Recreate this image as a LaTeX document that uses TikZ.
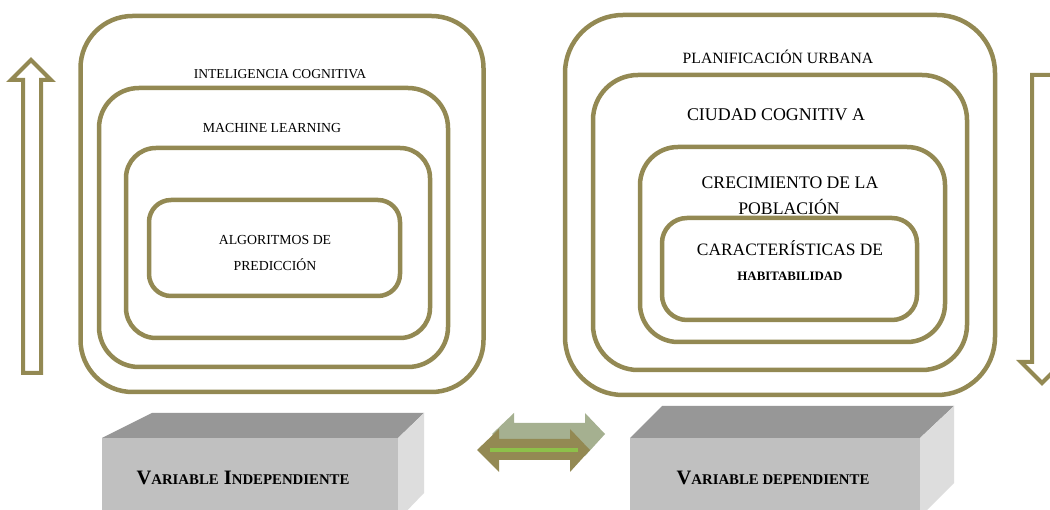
\documentclass[tikz,border=0pt]{standalone}
\usepackage{fontspec}
\setmainfont{Liberation Serif}
\definecolor{oliveline}{HTML}{938953}
\definecolor{arrowback}{HTML}{A5B090}
\definecolor{arrowgreen}{HTML}{8DC04A}
\definecolor{boxfront}{HTML}{C0C0C0}
\definecolor{boxtop}{HTML}{979797}
\definecolor{boxside}{HTML}{DDDDDD}
\newcommand\mysc[1]{{\fontsize{14.8}{15}\selectfont #1}}
\begin{document}
\begin{tikzpicture}[x=1pt,y=-1pt,
  frame/.style={draw=oliveline, line width=4.5pt, rounded corners=#1, inner sep=0pt, fill=none},
  lbl/.style={inner sep=0pt, text=black, align=center},
  hollowarrow/.style={draw=oliveline, line width=4pt, line join=miter, fill=white},
  boxlbl/.style={inner sep=0pt, text=black, font=\bfseries\fontsize{20.5}{21}\selectfont}]
\useasboundingbox (0,0) rectangle (1050,510);
\clip (0,0) rectangle (1050,510);
\fill[white] (0,0) rectangle (1050,510);

% ---- left arrow (up) ----
\draw[hollowarrow] (23,373) -- (23,80) -- (11,80) -- (31,60) -- (51,80) -- (41,80) -- (41,373) -- cycle;

% ---- left nested frames ----
\node[frame=52, minimum width=403, minimum height=376] (li) at (282,204) {};
\node[frame=40, minimum width=349, minimum height=279] (lm) at (273.5,227.5) {};
\node[frame=30, minimum width=304, minimum height=190] (lp) at (278,243) {};
\node[frame=22, minimum width=251, minimum height=96] (la) at (274.5,248) {};

\node[lbl, font=\fontsize{13.6}{14}\selectfont] (tli) at (280,74) {INTELIGENCIA COGNITIVA};
\node[lbl, font=\fontsize{13.8}{14}\selectfont] (tlm) at (272,128) {MACHINE LEARNING};
\node[lbl, font=\fontsize{13.8}{14}\selectfont] (tla1) at (275,240) {ALGORITMOS DE};
\node[lbl, font=\fontsize{13.8}{14}\selectfont] (tla2) at (275,265) {PREDICCIÓN};

% ---- right nested frames ----
\node[frame=58, minimum width=430, minimum height=380] (ru) at (780,205) {};
\node[frame=45, minimum width=374, minimum height=295] (rc) at (780,222.5) {};
\node[frame=38, minimum width=305, minimum height=195] (rp) at (792.5,244.5) {};
\node[frame=25, minimum width=255, minimum height=102] (rh) at (789.5,269) {};

\node[lbl, font=\fontsize{15.7}{16}\selectfont] (tru) at (778,57) {PLANIFICACIÓN URBANA};
\node[lbl, font=\fontsize{17.9}{18}\selectfont] (trc) at (776,115) {CIUDAD COGNITIV A};
\node[lbl, font=\fontsize{17.7}{18}\selectfont] (trp1) at (790,183) {CRECIMIENTO DE LA};
\node[lbl, font=\fontsize{17.7}{18}\selectfont] (trp2) at (789,207) {POBLACIÓN};
\node[lbl, font=\fontsize{17.4}{18}\selectfont] (trh1) at (790,248) {CARACTERÍSTICAS DE};
\node[lbl, font=\bfseries\fontsize{12.9}{13}\selectfont] (trh2) at (790,276) {HABITABILIDAD};

% ---- right arrow (down) ----
\draw[hollowarrow] (1032,75) -- (1032,362) -- (1021,362) -- (1042,383) -- (1063,362) -- (1052,362) -- (1052,75) -- cycle;

% ---- left 3D box ----
\fill[boxfront] (102,438) rectangle (398,515);
\fill[boxtop] (102,438) -- (152,413) -- (424,413) -- (398,438) -- cycle;
\fill[boxside] (398,438) -- (424,413) -- (424,493) -- (398,520) -- cycle;
\node[boxlbl] (vi) at (243,478) {V\mysc{ARIABLE} I\mysc{NDEPENDIENTE}};

% ---- right 3D box ----
\fill[boxfront] (630,438) rectangle (920,515);
\fill[boxtop] (630,438) -- (662,406) -- (954,406) -- (920,438) -- cycle;
\fill[boxside] (920,438) -- (954,406) -- (954,483) -- (920,517) -- cycle;
\node[boxlbl] (vd) at (773,478) {V\mysc{ARIABLE DEPENDIENTE}};

% ---- double arrow between the boxes ----
\fill[arrowback, shift={(15,-16)}] (477,450) -- (499,429) -- (499,439) -- (570,439) -- (570,429) -- (590,450) -- (570,472) -- (570,460) -- (499,460) -- (499,472) -- cycle;
\fill[oliveline] (477,450) -- (499,429) -- (499,439) -- (570,439) -- (570,429) -- (590,450) -- (570,472) -- (570,460) -- (499,460) -- (499,472) -- cycle;
\draw[arrowgreen, line width=3.5pt] (490,450) -- (578,450);
\end{tikzpicture}
\end{document}
